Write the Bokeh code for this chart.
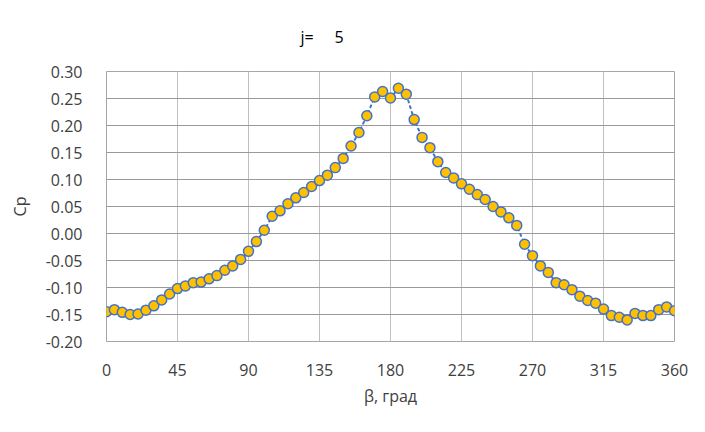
from bokeh.plotting import figure
from bokeh.models import Range1d, FixedTicker, NumeralTickFormatter
from bokeh.embed import file_html
from bokeh.resources import INLINE

title_text = "j=\u00a0\u00a0\u00a0\u00a0\u00a05"
x_label = "β, град"
y_label = "Cp"

beta = [0, 5, 10, 15, 20, 25, 30, 35, 40, 45, 50, 55, 60, 65, 70, 75, 80, 85,
        90, 95, 100, 105, 110, 115, 120, 125, 130, 135, 140, 145, 150, 155, 160,
        165, 170, 175, 180, 185, 190, 195, 200, 205, 210, 215, 220, 225, 230,
        235, 240, 245, 250, 255, 260, 265, 270, 275, 280, 285, 290, 295, 300,
        305, 310, 315, 320, 325, 330, 335, 340, 345, 350, 355, 360]
cp = [-0.145, -0.141, -0.146, -0.150, -0.149, -0.142, -0.134, -0.123, -0.112,
      -0.102, -0.097, -0.091, -0.090, -0.084, -0.078, -0.068, -0.060, -0.048,
      -0.033, -0.015, 0.006, 0.032, 0.042, 0.055, 0.066, 0.076, 0.087, 0.098,
      0.108, 0.122, 0.139, 0.162, 0.187, 0.218, 0.253, 0.263, 0.251, 0.269,
      0.258, 0.211, 0.178, 0.159, 0.133, 0.113, 0.103, 0.092, 0.082, 0.072,
      0.063, 0.050, 0.040, 0.029, 0.015, -0.020, -0.041, -0.060, -0.072,
      -0.091, -0.095, -0.104, -0.116, -0.124, -0.129, -0.140, -0.152, -0.155,
      -0.160, -0.148, -0.152, -0.152, -0.141, -0.136, -0.143]

x_ticks = [0, 45, 90, 135, 180, 225, 270, 315, 360]
y_ticks = [-0.20, -0.15, -0.10, -0.05, 0.00, 0.05, 0.10, 0.15, 0.20, 0.25, 0.30]

FONT = "Open Sans"
TXT = "#404040"

p = figure(width=700, height=428, output_backend="svg", toolbar_location=None,
           x_range=Range1d(0, 360), y_range=Range1d(-0.20, 0.30),
           min_border_left=106, min_border_right=26, min_border_top=69,
           min_border_bottom=87)
p.background_fill_color = "white"
p.border_fill_color = "white"
p.outline_line_color = "#a6a6a6"
p.outline_line_width = 1

p.title.text = title_text
p.title.align = "left"
p.title.offset = 194
p.title.standoff = 47
p.title.text_font = FONT
p.title.text_font_size = "16px"
p.title.text_font_style = "normal"
p.title.text_color = "#000000"

p.xaxis.ticker = FixedTicker(ticks=x_ticks)
p.yaxis.ticker = FixedTicker(ticks=y_ticks)
p.yaxis.formatter = NumeralTickFormatter(format="0.00")

for ax in (p.xaxis, p.yaxis):
    ax.axis_line_color = None
    ax.major_tick_line_color = None
    ax.minor_tick_line_color = None
    ax.major_label_text_font = FONT
    ax.major_label_text_font_size = "16px"
    ax.major_label_text_color = TXT
    ax.axis_label_text_font = FONT
    ax.axis_label_text_font_size = "16px"
    ax.axis_label_text_font_style = "normal"
    ax.axis_label_text_color = TXT

p.xaxis.axis_label = x_label
p.yaxis.axis_label = y_label
p.xaxis.major_label_standoff = 16
p.yaxis.major_label_standoff = 18
p.xaxis.axis_label_standoff = 6
p.yaxis.axis_label_standoff = 12

p.xgrid.grid_line_color = "#bfbfbf"
p.ygrid.grid_line_color = "#999999"
p.xgrid.grid_line_width = 1
p.ygrid.grid_line_width = 1

p.line(beta, cp, line_color="#4472C4", line_width=2, line_dash="2 4", line_cap="round")
p.scatter(beta, cp, size=10, fill_color="#FFC000", line_color="#4472C4", line_width=1.5)

open("out.html", "w").write(file_html(p, INLINE))
